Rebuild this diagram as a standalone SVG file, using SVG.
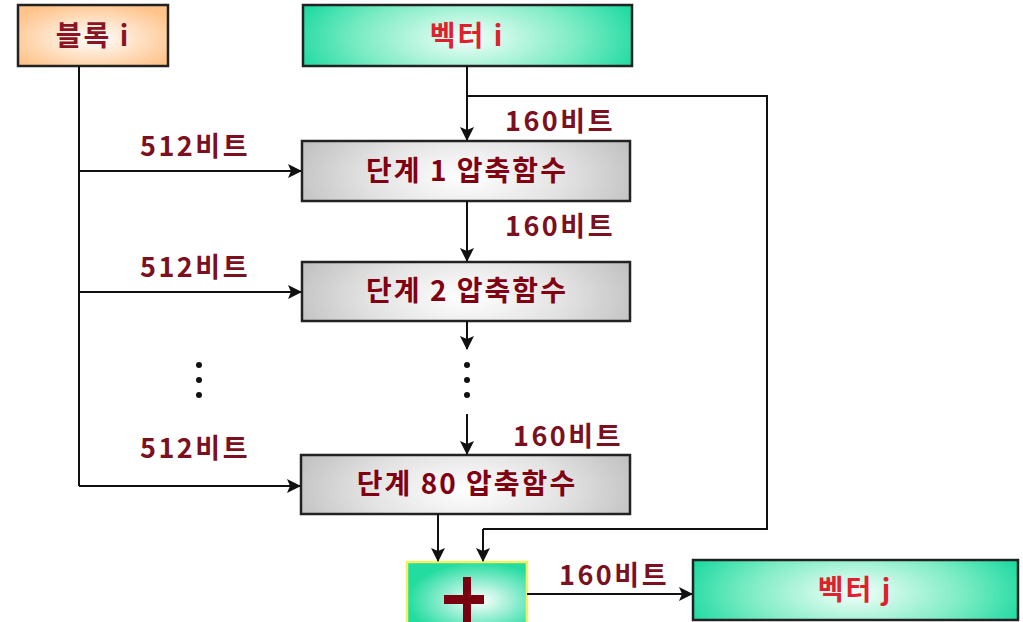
<svg xmlns="http://www.w3.org/2000/svg" width="1023" height="622" viewBox="0 0 1023 622">
<defs>
<radialGradient id="gOrange" cx="0.5" cy="0.55" r="0.6">
<stop offset="0" stop-color="#ffffff"/><stop offset="1" stop-color="#ffc48c"/></radialGradient>
<radialGradient id="gGreen" cx="0.5" cy="0.55" r="0.55" gradientTransform="translate(0.5 0.55) scale(1 2.2) translate(-0.5 -0.55)">
<stop offset="0" stop-color="#f4fffa"/><stop offset="0.6" stop-color="#7cecc4"/><stop offset="1" stop-color="#1ad9a0"/></radialGradient>
<radialGradient id="gGray" cx="0.5" cy="0.6" r="0.55" gradientTransform="translate(0.5 0.6) scale(1 2.4) translate(-0.5 -0.6)">
<stop offset="0" stop-color="#ffffff"/><stop offset="0.55" stop-color="#e2e2e2"/><stop offset="1" stop-color="#c0c0c0"/></radialGradient>
<radialGradient id="gPlus" cx="0.6" cy="0.6" r="0.6">
<stop offset="0" stop-color="#ffffff"/><stop offset="1" stop-color="#22dca0"/></radialGradient>
<marker id="arr" markerWidth="14" markerHeight="14" viewBox="0 0 14 14" refX="13" refY="7" orient="auto" markerUnits="userSpaceOnUse">
<path d="M0,0 L14,7 L0,14 L3,7 Z" fill="#111"/></marker>
</defs>
<style>
.box{stroke:#222;stroke-width:2.5}
.lbl{font-family:"Noto Sans CJK KR","Noto Sans",sans-serif;font-weight:bold;text-anchor:middle;dominant-baseline:central;font-size:28px;letter-spacing:2px}
.bit{font-family:"Noto Sans CJK KR","Noto Sans",sans-serif;font-weight:bold;font-size:27px;letter-spacing:2.5px;fill:#7a1020}
.con line,.con polyline{stroke:#111;stroke-width:2;fill:none}
.dot{fill:#111}
</style>
<rect width="1023" height="622" fill="#ffffff"/>

<g id="block-i">
<rect class="box" x="18" y="5" width="150" height="61" fill="url(#gOrange)"/>
<text class="lbl" x="93" y="34" fill="#8b1424">블록 i</text>
</g>
<g id="vector-i">
<rect class="box" x="303" y="5" width="329" height="61" fill="url(#gGreen)"/>
<text class="lbl" x="467" y="34" fill="#e0202c">벡터 i</text>
</g>
<g id="stage1">
<rect class="box" x="302" y="141" width="328" height="60" fill="url(#gGray)"/>
<text class="lbl" x="467" y="169" fill="#800012">단계 1 압축함수</text>
</g>
<g id="stage2">
<rect class="box" x="302" y="262" width="328" height="59" fill="url(#gGray)"/>
<text class="lbl" x="467" y="289" fill="#800012">단계 2 압축함수</text>
</g>
<g id="stage80">
<rect class="box" x="301" y="455" width="329" height="59" fill="url(#gGray)"/>
<text class="lbl" x="467" y="482" fill="#800012">단계 80 압축함수</text>
</g>
<g id="plus">
<rect x="407" y="562" width="120" height="64" fill="url(#gPlus)" stroke="#f4f060" stroke-width="2.5"/>
<rect x="463" y="577" width="8" height="50" fill="#7a0010"/>
<rect x="444" y="595" width="40" height="9" fill="#7a0010"/>
</g>
<g id="vector-j">
<rect class="box" x="693" y="560" width="325" height="60" fill="url(#gGreen)"/>
<text class="lbl" x="855" y="588" fill="#e0202c">벡터 j</text>
</g>

<g id="connectors" class="con">
<polyline points="79,66 79,486"/>
<line x1="79" y1="171" x2="301" y2="171" marker-end="url(#arr)"/>
<line x1="79" y1="292" x2="301" y2="292" marker-end="url(#arr)"/>
<line x1="79" y1="486" x2="300" y2="486" marker-end="url(#arr)"/>
<line x1="467" y1="66" x2="467" y2="140" marker-end="url(#arr)"/>
<polyline points="467,96 767,96 767,529 483,529"/>
<line x1="483" y1="529" x2="483" y2="561" marker-end="url(#arr)"/>
<line x1="467" y1="201" x2="467" y2="261" marker-end="url(#arr)"/>
<line x1="467" y1="321" x2="467" y2="349" marker-end="url(#arr)"/>
<line x1="467" y1="414" x2="467" y2="454" marker-end="url(#arr)"/>
<line x1="438" y1="514" x2="438" y2="561" marker-end="url(#arr)"/>
<line x1="527" y1="594" x2="692" y2="594" marker-end="url(#arr)"/>
</g>

<g id="dots">
<circle class="dot" cx="199" cy="365" r="3"/><circle class="dot" cx="199" cy="380" r="3"/><circle class="dot" cx="199" cy="395" r="3"/>
<circle class="dot" cx="467" cy="365" r="3"/><circle class="dot" cx="467" cy="380" r="3"/><circle class="dot" cx="467" cy="395" r="3"/>
</g>

<g id="labels">
<text class="bit" x="140" y="156">512비트</text>
<text class="bit" x="140" y="277">512비트</text>
<text class="bit" x="140" y="458">512비트</text>
<text class="bit" x="505" y="131">160비트</text>
<text class="bit" x="505" y="236">160비트</text>
<text class="bit" x="513" y="446">160비트</text>
<text class="bit" x="559" y="585">160비트</text>
</g>
</svg>
